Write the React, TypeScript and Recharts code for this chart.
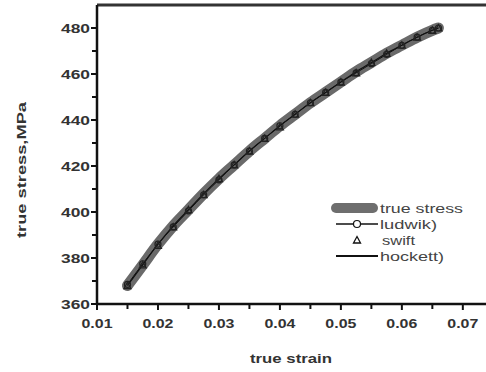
import React from 'react';
import { LineChart, Line, XAxis, YAxis, ReferenceLine } from 'recharts';

// strain values
const strain = [
    0.015, 0.0175, 0.02, 0.0225, 0.025, 0.0275, 0.03, 0.0325, 0.035, 0.0375, 0.04,
    0.0425, 0.045, 0.0475, 0.05, 0.0525, 0.055, 0.0575, 0.06, 0.0625, 0.065, 0.066,
];
const trueStress = [
    368, 377, 386, 394, 401, 408, 414.5, 420.5, 426.5, 432, 437.5,
    442.5, 447.5, 452, 456.5, 461, 465, 469, 472.5, 476, 479, 480,
];
const ludwik = [
    368.5, 377.5, 386, 393.5, 400.5, 407.5, 414, 420.5, 426.5, 432, 437.5,
    442.5, 447.5, 452, 456.5, 460.5, 464.5, 468.5, 472.5, 476, 479, 480,
];
const swift = [
    368, 377, 385.5, 393.5, 401, 407.5, 414.5, 420.5, 426.5, 432, 437,
    442.5, 447.5, 452, 456.5, 460.5, 465, 469, 472.5, 476, 479, 480,
];
const hockett = [
    368, 377, 386, 394, 401, 408, 414.5, 420.5, 426.5, 432, 437.5,
    442.5, 447.5, 452, 456.5, 461, 465, 469, 472.5, 476, 479, 480,
];

const xTicks = [0.01, 0.015, 0.02, 0.025, 0.03, 0.035, 0.04, 0.045, 0.05, 0.055, 0.06, 0.065, 0.07];
const yTicks = [360, 370, 380, 390, 400, 410, 420, 430, 440, 450, 460, 470, 480];

const legendLabels = ['true stress', 'ludwik)', 'swift', 'hockett)'];

const data = strain.map((s, i) => ({
    strain: s,
    trueStress: trueStress[i],
    ludwik: ludwik[i],
    swift: swift[i],
    hockett: hockett[i],
}));

const FONT = '"Liberation Sans", Arial, sans-serif';

const XTick = ({ x, y, payload }: any) => {
    const v = payload.value;
    const major = Math.round(v * 1000) % 10 === 0;
    return (
        <g>
            <line x1={x} x2={x} y1={y} y2={y + (major ? 6 : 5)} stroke="#111" strokeWidth={2} />
            {major && (
                <text x={x} y={y + 19} textAnchor="middle" dominantBaseline="central" fontFamily={FONT}
                    fontWeight="bold" fontSize={13} fill="#333" textLength={31} lengthAdjust="spacingAndGlyphs">
                    {v.toFixed(2)}
                </text>
            )}
        </g>
    );
};

const YTick = ({ x, y, payload }: any) => {
    const v = payload.value;
    const major = v % 20 === 0;
    return (
        <g>
            <line x1={x - (major ? 6 : 5)} x2={x} y1={y} y2={y} stroke="#111" strokeWidth={2} />
            {major && (
                <text x={x - 7} y={y} textAnchor="end" dominantBaseline="central" fontFamily={FONT}
                    fontWeight="bold" fontSize={13} fill="#333" textLength={29} lengthAdjust="spacingAndGlyphs">
                    {v}
                </text>
            )}
        </g>
    );
};

const Triangle = ({ cx, cy }: any) => {
    if (cx == null || cy == null) return null;
    return <path d={`M${cx},${cy - 3.5}L${cx + 3.5},${cy + 3}L${cx - 3.5},${cy + 3}Z`} fill="none" stroke="#222" strokeWidth={1.2} />;
};

const LegendBox = () => (
    <svg width={160} height={70} style={{ position: 'absolute', left: 328, top: 198, overflow: 'visible' }}>
        {/* rows: true stress, ludwik, swift, hockett */}
        <line x1={8} x2={45} y1={10} y2={10} stroke="#6e6e6e" strokeWidth={10} strokeLinecap="round" />
        <line x1={8} x2={50} y1={26} y2={26} stroke="#111" strokeWidth={1.5} />
        <circle cx={29} cy={26} r={3.5} fill="#fff" stroke="#111" strokeWidth={1.2} />
        <path d="M29,38.5L32.5,45L25.5,45Z" fill="none" stroke="#111" strokeWidth={1.3} />
        <line x1={8} x2={50} y1={58} y2={58} stroke="#111" strokeWidth={1.8} />
        {legendLabels.map((label, i) => (
            <text key={label} x={52 + (i === 2 ? 2 : 0)} y={10 + i * 16} dominantBaseline="central"
                fontFamily={FONT} fontSize={13} fill="#444"
                textLength={[83, 57, 33, 64][i]} lengthAdjust="spacingAndGlyphs">
                {label}
            </text>
        ))}
    </svg>
);

export default function App() {
    return (
        <div style={{ position: 'absolute', left: 0, top: 0, width: 486, height: 372, overflow: 'hidden', background: '#fff' }}>
            <LineChart width={486} height={372} data={data} margin={{ top: 5, right: 0, left: 0, bottom: 0 }}>
                <XAxis
                    type="number"
                    dataKey="strain"
                    domain={[0.01, 0.0738]}
                    ticks={xTicks}
                    interval={0}
                    height={68}
                    tickSize={0}
                    tickMargin={0}
                    tickLine={false}
                    tick={(p: any) => <XTick {...p} />}
                    axisLine={{ stroke: '#111', strokeWidth: 2.5 }}
                />
                <YAxis
                    type="number"
                    domain={[360, 490]}
                    ticks={yTicks}
                    interval={0}
                    width={97}
                    tickSize={0}
                    tickMargin={0}
                    tickLine={false}
                    tick={(p: any) => <YTick {...p} />}
                    axisLine={{ stroke: '#111', strokeWidth: 2.5 }}
                />
                <ReferenceLine y={490} stroke="#333" strokeWidth={3} />
                <Line dataKey="trueStress" type="monotone" stroke="#6a6a6a" strokeWidth={11} strokeLinecap="round"
                    dot={false} isAnimationActive={false} />
                <Line dataKey="hockett" type="monotone" stroke="#111" strokeWidth={1.2} dot={false} isAnimationActive={false} />
                <Line dataKey="ludwik" type="monotone" stroke="#111" strokeWidth={1}
                    dot={{ r: 3, fill: 'none', stroke: '#222', strokeWidth: 1.2 }} isAnimationActive={false} />
                <Line dataKey="swift" type="monotone" stroke="none" dot={<Triangle />} isAnimationActive={false} />
                <text x={291} y={358} textAnchor="middle" dominantBaseline="central" fontFamily={FONT}
                    fontWeight="bold" fontSize={13} fill="#333" textLength={82} lengthAdjust="spacingAndGlyphs">
                    true strain
                </text>
                <text x={21} y={170} textAnchor="middle" dominantBaseline="central" fontFamily={FONT}
                    fontWeight="bold" fontSize={13} fill="#333" textLength={136} lengthAdjust="spacingAndGlyphs"
                    transform="rotate(-90 21 170)">
                    true stress,MPa
                </text>
            </LineChart>
            <LegendBox />
        </div>
    );
}
